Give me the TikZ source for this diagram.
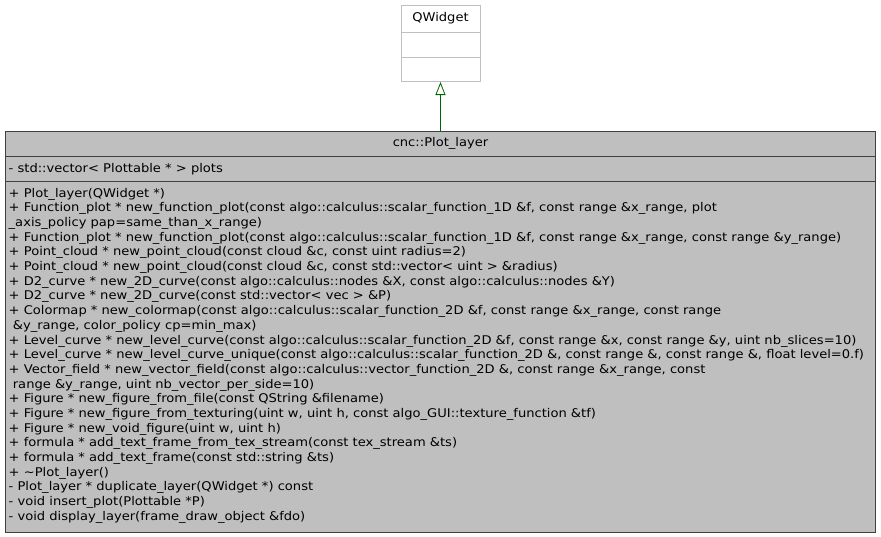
\documentclass[tikz,border=0pt]{standalone}
\usepackage{fontspec}
\setmainfont{DejaVu Sans}[FakeStretch=1.09]
\usetikzlibrary{arrows.meta,positioning}
\definecolor{classfill}{HTML}{BFBFBF}
\definecolor{classedge}{HTML}{404040}
\definecolor{baseedge}{HTML}{BFBFBF}
\definecolor{inheritgreen}{HTML}{006400}
\tikzset{
 classbox/.style={draw=classedge,fill=classfill,line width=1pt,inner sep=0pt},
 basebox/.style={draw=baseedge,fill=white,line width=1pt,inner sep=0pt},
 umltext/.style={inner sep=0pt,font=\fontsize{12}{14}\selectfont},
 member/.style={umltext,anchor=base west},
 inherit/.style={draw=inheritgreen,line width=0.8pt,
   -{Triangle[open,length=13pt,width=10pt,fill=white]}}
}
\begin{document}
\begin{tikzpicture}[x=1pt,y=-1pt]
 \useasboundingbox (0,0) rectangle (881,536);
 % base class
 \node[basebox,minimum width=79pt,minimum height=76pt] (qwidget) at (440.5,43.5) {};
 \node[umltext,anchor=base] (qwidgetname) at (440.5,21.5) {QWidget};
 \draw[baseedge,line width=1pt] (qwidget.west |- 0,32) -- (qwidget.east |- 0,32);
 \draw[baseedge,line width=1pt] (qwidget.west |- 0,57) -- (qwidget.east |- 0,57);
 % derived class
 \node[classbox,minimum width=870pt,minimum height=401pt] (plotlayer) at (440.5,331.5) {};
 \node[umltext,anchor=base] (plotlayername) at (440.5,146.7) {cnc::Plot\_layer};
 \draw[classedge,line width=1pt] (plotlayer.west |- 0,156.5) -- (plotlayer.east |- 0,156.5);
 \draw[classedge,line width=1pt] (plotlayer.west |- 0,181.5) -- (plotlayer.east |- 0,181.5);
 \node[member] (attr1) at (8.5,172.2) {- std::vector< Plottable * > plots};
 \foreach \txt [count=\i] in {
  {+ Plot\_layer(QWidget *)},
  {+ Function\_plot * new\_function\_plot(const algo::calculus::scalar\_function\_1D \&f, const range \&x\_range, plot},
  {\_axis\_policy pap=same\_than\_x\_range)},
  {+ Function\_plot * new\_function\_plot(const algo::calculus::scalar\_function\_1D \&f, const range \&x\_range, const range \&y\_range)},
  {+ Point\_cloud * new\_point\_cloud(const cloud \&c, const uint radius=2)},
  {+ Point\_cloud * new\_point\_cloud(const cloud \&c, const std::vector< uint > \&radius)},
  {+ D2\_curve * new\_2D\_curve(const algo::calculus::nodes \&X, const algo::calculus::nodes \&Y)},
  {+ D2\_curve * new\_2D\_curve(const std::vector< vec > \&P)},
  {+ Colormap * new\_colormap(const algo::calculus::scalar\_function\_2D \&f, const range \&x\_range, const range},
  {\ \&y\_range, color\_policy cp=min\_max)},
  {+ Level\_curve * new\_level\_curve(const algo::calculus::scalar\_function\_2D \&f, const range \&x, const range \&y, uint nb\_slices=10)},
  {+ Level\_curve * new\_level\_curve\_unique(const algo::calculus::scalar\_function\_2D \&, const range \&, const range \&, float level=0.f)},
  {+ Vector\_field * new\_vector\_field(const algo::calculus::vector\_function\_2D \&, const range \&x\_range, const},
  {\ range \&y\_range, uint nb\_vector\_per\_side=10)},
  {+ Figure * new\_figure\_from\_file(const QString \&filename)},
  {+ Figure * new\_figure\_from\_texturing(uint w, uint h, const algo\_GUI::texture\_function \&tf)},
  {+ Figure * new\_void\_figure(uint w, uint h)},
  {+ formula * add\_text\_frame\_from\_tex\_stream(const tex\_stream \&ts)},
  {+ formula * add\_text\_frame(const std::string \&ts)},
  {+ \textasciitilde Plot\_layer()},
  {- Plot\_layer * duplicate\_layer(QWidget *) const},
  {- void insert\_plot(Plottable *P)},
  {- void display\_layer(frame\_draw\_object \&fdo)}}
  \node[member] (m\i) at (8.5,197.2+14.68*\i-14.68) {\txt};
 % inheritance
 \draw[inherit] (plotlayer.north) -- (qwidget.south);
\end{tikzpicture}
\end{document}
